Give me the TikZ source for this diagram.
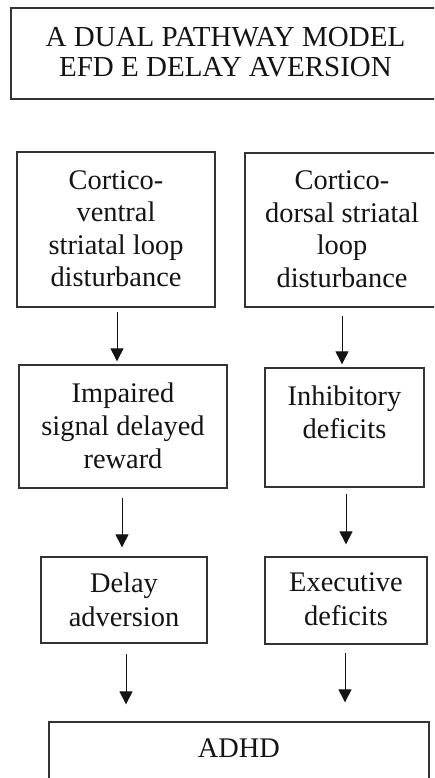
\documentclass[tikz,border=0pt]{standalone}
\usepackage{fontspec}
\setmainfont{Liberation Serif}
\usetikzlibrary{arrows.meta}

\definecolor{ink}{HTML}{141414}
\definecolor{edge}{HTML}{333333}

\tikzset{
  boxshape/.style={draw=edge, line width=1.3pt, rectangle, inner sep=0pt},
  boxtext/.style={text=ink, align=center, inner sep=0pt, anchor=north},
  arr/.style={draw=ink, line width=1pt, -{Triangle[width=13pt,length=13pt]}},
}

\begin{document}
\begin{tikzpicture}[x=1pt, y=-1pt]
  \useasboundingbox (0,0) rectangle (434,778);
  \clip (0,0) rectangle (434,778);
  \fill[white] (0,0) rectangle (434,778);

  % boxes
  \node[boxshape, minimum width=429pt, minimum height=91pt]  (title) at (225.5,53.5) {};
  \node[boxshape, minimum width=198pt, minimum height=155pt] (vent)  at (116,229.5) {};
  \node[boxshape, minimum width=192pt, minimum height=154pt] (dors)  at (341,230) {};
  \node[boxshape, minimum width=208pt, minimum height=123pt] (imp)   at (123,426.5) {};
  \node[boxshape, minimum width=159pt, minimum height=119pt] (inh)   at (344.5,427.5) {};
  \node[boxshape, minimum width=166pt, minimum height=86pt]  (dly)   at (124,600) {};
  \node[boxshape, minimum width=162pt, minimum height=87pt]  (exe)   at (346,600.5) {};
  \node[boxshape, minimum width=380pt, minimum height=78pt]  (adhd)  at (239,761) {};

  % labels
  \node[boxtext, font=\fontsize{29}{30}\selectfont] (titletxt) at (225.5,27)
    {A DUAL PATHWAY MODEL\\EFD E DELAY AVERSION};
  \node[boxtext, font=\fontsize{28.4}{32.5}\selectfont] (venttxt) at (116,170)
    {Cortico-\\ventral\\striatal loop\\disturbance};
  \node[boxtext, font=\fontsize{28.4}{32.5}\selectfont] (dorstxt) at (342,170.5)
    {Cortico-\\dorsal striatal\\loop\\disturbance};
  \node[boxtext, font=\fontsize{28.4}{33}\selectfont] (imptxt) at (123,383)
    {Impaired\\signal delayed\\reward};
  \node[boxtext, font=\fontsize{28.4}{33}\selectfont] (inhtxt) at (344.5,385.5)
    {Inhibitory\\deficits};
  \node[boxtext, font=\fontsize{28.4}{34}\selectfont] (dlytxt) at (124,572.5)
    {Delay\\adversion};
  \node[boxtext, font=\fontsize{28.4}{34}\selectfont] (exetxt) at (346,572.5)
    {Executive\\deficits};
  \node[boxtext, font=\fontsize{28.4}{34}\selectfont] (adhdtxt) at (239,738.5)
    {ADHD};

  % connectors
  \draw[arr] ([xshift=1pt,yshift=-4pt]vent.south) -- ([xshift=1pt,yshift=3pt]vent.south |- imp.north);
  \draw[arr] ([xshift=1pt,yshift=-8pt]dors.south) -- ([xshift=1pt,yshift=3pt]dors.south |- inh.north);
  \draw[arr] ([xshift=-1pt,yshift=-9pt]imp.south) -- ([xshift=-1pt,yshift=9pt]imp.south |- dly.north);
  \draw[arr] ([xshift=1.5pt,yshift=-6pt]inh.south) -- ([xshift=1.5pt,yshift=12pt]inh.south |- exe.north);
  \draw[arr] ([xshift=2pt,yshift=-10pt]dly.south) -- ([xshift=2pt,yshift=17pt]dly.south |- adhd.north);
  \draw[arr] ([xshift=-1pt,yshift=-8pt]exe.south) -- ([xshift=-1pt,yshift=19pt]exe.south |- adhd.north);
\end{tikzpicture}
\end{document}
